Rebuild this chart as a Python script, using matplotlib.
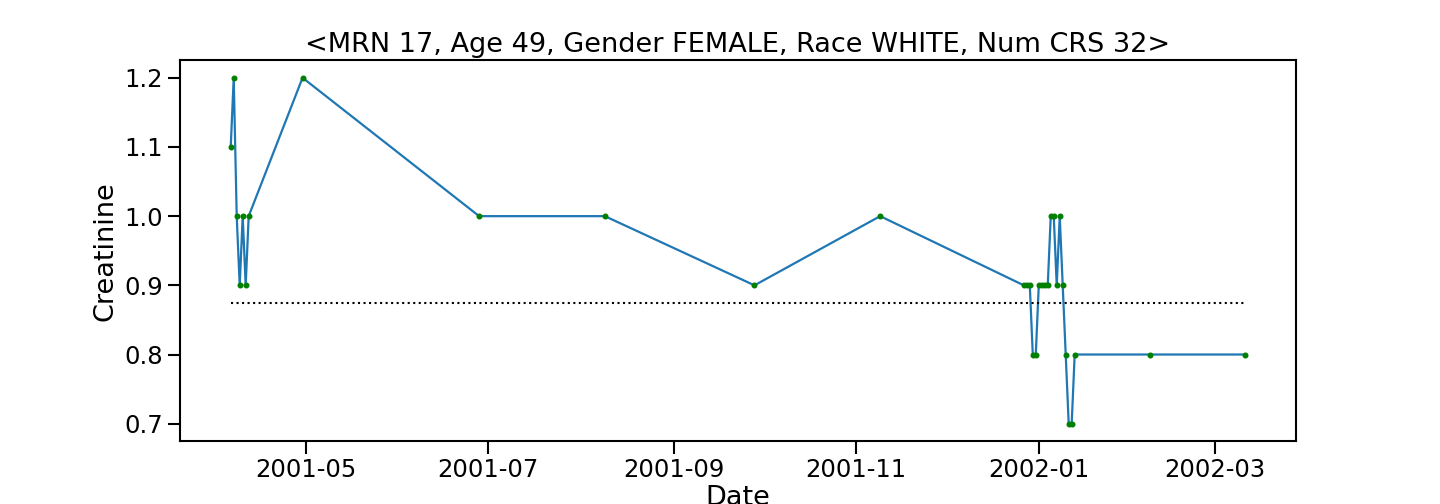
import numpy as np
import pandas as pd
import matplotlib
matplotlib.use('Agg')
import matplotlib.pyplot as plt
import matplotlib.dates as mdates

# data
dates = [
    '2001-04-06', '2001-04-07', '2001-04-08', '2001-04-09', '2001-04-10',
    '2001-04-11', '2001-04-12', '2001-04-30', '2001-06-28', '2001-08-09',
    '2001-09-28', '2001-11-09', '2001-12-27', '2001-12-28', '2001-12-29',
    '2001-12-30', '2001-12-31', '2002-01-01', '2002-01-02', '2002-01-03',
    '2002-01-04', '2002-01-05', '2002-01-06', '2002-01-07', '2002-01-08',
    '2002-01-09', '2002-01-10', '2002-01-11', '2002-01-12', '2002-01-13',
    '2002-02-07', '2002-03-11',
]
creatinine = [
    1.1, 1.2, 1.0, 0.9, 1.0, 0.9, 1.0, 1.2, 1.0, 1.0,
    0.9, 1.0, 0.9, 0.9, 0.9, 0.8, 0.8, 0.9, 0.9, 0.9,
    0.9, 1.0, 1.0, 0.9, 1.0, 0.9, 0.8, 0.7, 0.7, 0.8,
    0.8, 0.8,
]
baseline = 0.875

mrn, age, gender, race = 17, 49, 'FEMALE', 'WHITE'

df = pd.DataFrame({'date': pd.to_datetime(dates), 'cr': creatinine})

plt.rcParams['font.size'] = 17.5
plt.rcParams['axes.linewidth'] = 1.5
plt.rcParams['xtick.major.size'] = 9
plt.rcParams['ytick.major.size'] = 9
plt.rcParams['xtick.major.width'] = 1.5
plt.rcParams['ytick.major.width'] = 1.5

fig, ax = plt.subplots(figsize=(14.4, 5.04), dpi=100)
fig.subplots_adjust(left=0.125, right=0.9, top=0.88, bottom=0.125)

ax.plot(df['date'], df['cr'], color='tab:blue', linewidth=1.6)
ax.plot(df['date'], df['cr'], 'o', color='green', markersize=3.3)
ax.plot([df['date'].iloc[0], df['date'].iloc[-1]], [baseline, baseline],
        linestyle=':', color='black', linewidth=1.5)

ax.xaxis.set_major_locator(mdates.MonthLocator(bymonth=[1, 3, 5, 7, 9, 11]))
ax.xaxis.set_major_formatter(mdates.DateFormatter('%Y-%m'))

ax.set_xlabel('Date', fontsize=19.5, labelpad=2)
ax.set_ylabel('Creatinine', fontsize=19.5)
ax.set_title('<MRN %d, Age %d, Gender %s, Race %s, Num CRS %d>'
             % (mrn, age, gender, race, len(df)), fontsize=19.5)

fig.savefig('out.png', dpi=100)
